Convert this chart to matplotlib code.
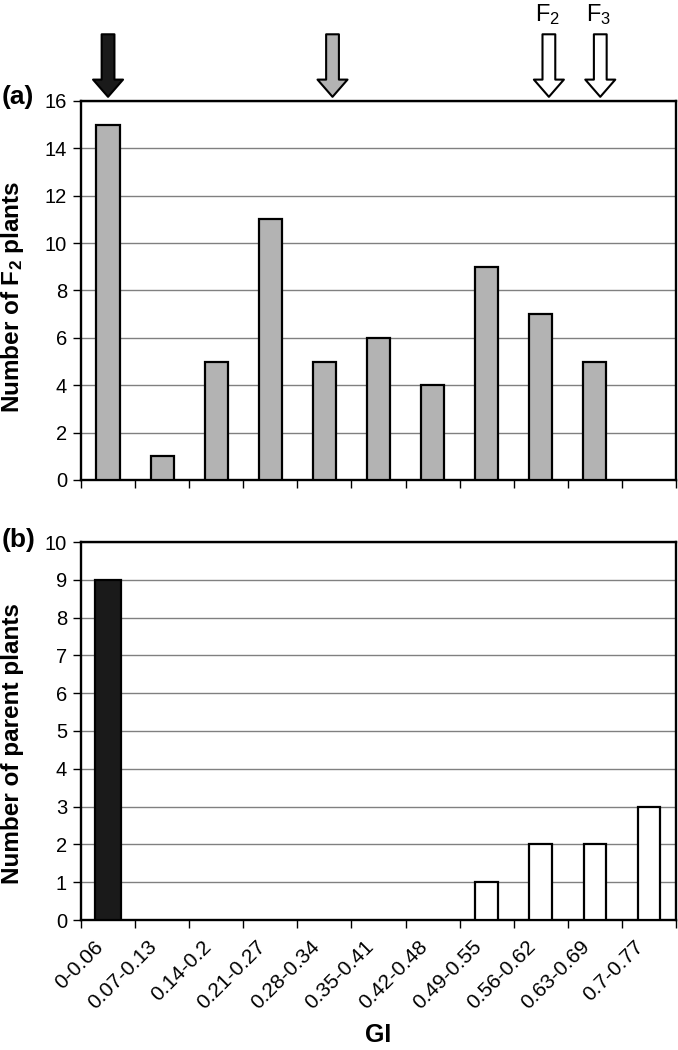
import matplotlib
matplotlib.use("Agg")
import matplotlib.pyplot as plt
import matplotlib.transforms as mtransforms
import numpy as np

plt.rcParams['font.family'] = ['Liberation Sans', 'DejaVu Sans']
plt.rcParams['mathtext.fontset'] = 'custom'
plt.rcParams['mathtext.rm'] = 'Liberation Sans'
plt.rcParams['mathtext.it'] = 'Liberation Sans'
plt.rcParams['mathtext.bf'] = 'Liberation Sans:bold'

# === data ===
gi_classes = ['0-0.06', '0.07-0.13', '0.14-0.2', '0.21-0.27', '0.28-0.34', '0.35-0.41',
              '0.42-0.48', '0.49-0.55', '0.56-0.62', '0.63-0.69', '0.7-0.77']
f2_counts = np.array([15, 1, 5, 11, 5, 6, 4, 9, 7, 5, 0])
parent_black = np.array([9, 0, 0, 0, 0, 0, 0, 0, 0, 0, 0])
parent_white = np.array([0, 0, 0, 0, 0, 0, 0, 1, 2, 2, 3])
# mean GI positions marked by arrows (x in category units)
arrow_pos = [0.0, 4.15, 8.15, 9.1]
arrow_fill = ['#1a1a1a', '#b3b3b3', 'white', 'white']
arrow_text = ['', '', 'F$_2$', 'F$_3$']

x = np.arange(len(gi_classes))
W, H = 678, 1050

fig = plt.figure(figsize=(W / 100, H / 100), dpi=100)
ax1 = fig.add_axes([81 / W, 1 - 480 / H, 595 / W, 379 / H])
ax2 = fig.add_axes([81 / W, 1 - 920 / H, 595 / W, 378 / H])


def style_axis(ax, ymax, step):
    ax.set_xlim(-0.5, len(gi_classes) - 0.5)
    ax.set_ylim(0, ymax)
    ax.set_yticks(np.arange(0, ymax + 1, step))
    ax.yaxis.grid(True, color='#808080', linewidth=1.0)
    ax.set_axisbelow(True)
    for s in ax.spines.values():
        s.set_linewidth(1.7)
        s.set_color('black')
    ax.set_xticks(np.arange(-0.5, len(gi_classes)))
    ax.set_xticklabels([])
    ax.tick_params(axis='x', which='major', direction='out', length=5.5, width=1.0)
    ax.tick_params(axis='y', which='major', direction='out', length=6, width=1.0,
                   labelsize=14.5, pad=4)


# === (a) F2 plants ===
style_axis(ax1, 16, 2)
m = f2_counts > 0
ax1.bar(x[m], f2_counts[m], width=0.43, color='#b3b3b3', edgecolor='black', linewidth=1.6, zorder=3)
fig.text(13 / W, 1 - 297 / H, 'Number of F$_\\mathbf{2}$ plants', rotation=90, fontsize=17.5,
         fontweight='bold', ha='center', va='center')
fig.text(2 / W, 1 - 97 / H, '(a)', fontsize=19, fontweight='bold', ha='left', va='center')

for px, fc, lab in zip(arrow_pos, arrow_fill, arrow_text):
    ax1.annotate('', xy=(px, 1.011), xycoords=('data', 'axes fraction'),
                 xytext=(px, 1.176), textcoords=('data', 'axes fraction'),
                 annotation_clip=False,
                 arrowprops=dict(arrowstyle='simple,head_length=0.62,head_width=1.08,tail_width=0.46',
                                 fc=fc, ec='black', lw=1.5, mutation_scale=20,
                                 shrinkA=0, shrinkB=0))
    if lab:
        ax1.text(px - 0.03, 1 - 2 / H, lab, transform=mtransforms.blended_transform_factory(
            ax1.transData, fig.transFigure), fontsize=17, ha='center', va='top')

# === (b) parent plants ===
style_axis(ax2, 10, 1)
mb = parent_black > 0
mw = parent_white > 0
ax2.bar(x[mb], parent_black[mb], width=0.48, color='#1a1a1a', edgecolor='black', linewidth=1.6, zorder=3)
ax2.bar(x[mw], parent_white[mw], width=0.42, color='white', edgecolor='black', linewidth=1.6, zorder=3)
fig.text(13 / W, 1 - 744 / H, 'Number of parent plants', rotation=90, fontsize=17.5,
         fontweight='bold', ha='center', va='center')
fig.text(2 / W, 1 - 540 / H, '(b)', fontsize=19, fontweight='bold', ha='left', va='center')

ax2.set_xticks(x, minor=True)
ax2.set_xticklabels(gi_classes, minor=True, rotation=45, ha='right', va='center',
                    rotation_mode='anchor', fontsize=15)
ax2.tick_params(axis='x', which='minor', length=0, pad=17)
shift = mtransforms.ScaledTranslation(-8 / 100, 0, fig.dpi_scale_trans)
for lbl in ax2.get_xticklabels(minor=True):
    lbl.set_transform(lbl.get_transform() + shift)
fig.text((81 + 595 / 2) / W, 1 - 1035 / H, 'GI', fontsize=18, fontweight='bold',
         ha='center', va='center')

fig.savefig('out.png', dpi=100)
